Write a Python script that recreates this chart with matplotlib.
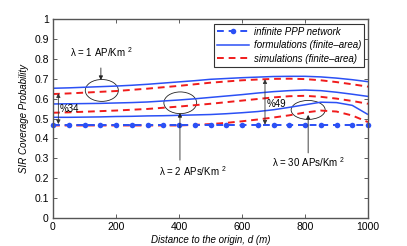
import matplotlib
matplotlib.use("Agg")
import matplotlib.pyplot as plt
from matplotlib.patches import Ellipse

plt.rcParams['font.family'] = ['Liberation Sans', 'DejaVu Sans']
plt.rcParams['mathtext.fontset'] = 'custom'
plt.rcParams['mathtext.rm'] = 'Liberation Sans'
plt.rcParams['mathtext.it'] = 'Liberation Sans:italic'

# ---- data ----
distance = [0, 50, 100, 150, 200, 250, 300, 350, 400, 450, 500,
            550, 600, 650, 700, 750, 800, 850, 900, 950, 1000]

infinite_ppp = [0.465] * 21

form_l1 = [0.652, 0.654, 0.657, 0.660, 0.663, 0.667, 0.672, 0.678, 0.684, 0.690, 0.697,
           0.701, 0.705, 0.708, 0.711, 0.712, 0.712, 0.709, 0.703, 0.695, 0.685]
sim_l1 = [0.623, 0.626, 0.630, 0.634, 0.638, 0.644, 0.650, 0.657, 0.664, 0.672, 0.680,
          0.686, 0.692, 0.696, 0.699, 0.700, 0.698, 0.692, 0.683, 0.672, 0.660]

form_l2 = [0.573, 0.574, 0.575, 0.576, 0.578, 0.580, 0.583, 0.588, 0.593, 0.599, 0.606,
           0.613, 0.620, 0.628, 0.635, 0.640, 0.643, 0.640, 0.632, 0.622, 0.611]
sim_l2 = [0.529, 0.531, 0.534, 0.537, 0.540, 0.544, 0.548, 0.554, 0.560, 0.567, 0.574,
          0.582, 0.590, 0.598, 0.606, 0.612, 0.614, 0.609, 0.600, 0.588, 0.574]

form_l30 = [0.506, 0.506, 0.507, 0.508, 0.510, 0.511, 0.513, 0.514, 0.516, 0.518, 0.520,
            0.524, 0.529, 0.535, 0.544, 0.556, 0.569, 0.582, 0.580, 0.566, 0.520]
sim_l30 = [0.465, 0.465, 0.465, 0.465, 0.465, 0.465, 0.465, 0.465, 0.465, 0.468, 0.472,
           0.478, 0.486, 0.495, 0.505, 0.516, 0.530, 0.540, 0.535, 0.515, 0.482]

xticks = [0, 200, 400, 600, 800, 1000]
yticks = [0, 0.1, 0.2, 0.3, 0.4, 0.5, 0.6, 0.7, 0.8, 0.9, 1]
ytick_labels = ['0', '0.1', '0.2', '0.3', '0.4', '0.5', '0.6', '0.7', '0.8', '0.9', '1']

BLUE = '#2b50f5'
RED = '#f01c1c'

fig = plt.figure(figsize=(4.07, 2.46), dpi=100)
ax = fig.add_axes([53/407, 1-218/246, 315/407, 199/246])

dash = (0, (3.5, 2.5))
for f in [form_l1, form_l2, form_l30]:
    ax.plot(distance, f, color=BLUE, lw=1.1, solid_capstyle='butt')
for s in [sim_l1, sim_l2, sim_l30]:
    ax.plot(distance, s, color=RED, lw=1.4, linestyle=dash)

ax.plot(distance, infinite_ppp, color=BLUE, lw=1.4, linestyle=dash,
        marker='o', markersize=4, markeredgewidth=0, clip_on=False)

# legend handles
h1, = ax.plot([], [], color=BLUE, lw=1.4, linestyle=dash, marker='o',
              markersize=4, markeredgewidth=0)
h2, = ax.plot([], [], color=BLUE, lw=1.1)
h3, = ax.plot([], [], color=RED, lw=1.4, linestyle=dash)
leg = ax.legend([h1, h2, h3],
                ['infinite PPP network', 'formulations (finite\u2013area)',
                 'simulations (finite\u2013area)'],
                loc='upper right', bbox_to_anchor=(0.995, 0.985),
                prop={'style': 'italic', 'size': 7}, fancybox=False,
                edgecolor='#333333', framealpha=1, handlelength=3.3,
                borderpad=0.3, labelspacing=0.35, handletextpad=0.5,
                borderaxespad=0.2)
leg.get_frame().set_linewidth(0.8)

ax.set_xlim(0, 1000)
ax.set_ylim(0, 1)
ax.set_xticks(xticks)
ax.set_yticks(yticks)
ax.set_yticklabels(ytick_labels)
ax.tick_params(direction='in', length=3, width=0.6, labelsize=7.5,
               top=True, right=True, color='#444444', pad=3)
for sp in ax.spines.values():
    sp.set_color('#555555')
    sp.set_linewidth(1.0)

ax.set_xlabel('Distance to the origin, d (m)', fontsize=7, style='italic', labelpad=2)
ax.set_ylabel('SIR Coverage Probability', fontsize=7, style='italic', labelpad=4)

# ellipses
for (cx, cy, w, h) in [(155, 0.641, 105, 0.11), (404, 0.579, 104, 0.109),
                       (810, 0.543, 108, 0.095)]:
    ax.add_patch(Ellipse((cx, cy), w, h, fill=False, edgecolor='#222222', lw=0.6))

arr = dict(arrowstyle='-|>', lw=0.6, color='#222222', mutation_scale=6,
           shrinkA=0, shrinkB=0)
darr = dict(arrowstyle='<|-|>', lw=0.6, color='#333333', mutation_scale=6,
            shrinkA=0, shrinkB=0)

ax.annotate('', xy=(152, 0.693), xytext=(152, 0.754), arrowprops=arr)
ax.text(152, 0.834, '\u03bb = 1 AP/Km $^{2}$', fontsize=7, ha='center', va='center')

ax.annotate('', xy=(403, 0.528), xytext=(403, 0.291), arrowprops=arr)
ax.text(445, 0.236, '\u03bb = 2 APs/Km $^{2}$', fontsize=7, ha='center', va='center')

ax.annotate('', xy=(810, 0.518), xytext=(810, 0.327), arrowprops=arr)
ax.text(811, 0.281, '\u03bb = 30 APs/Km $^{2}$', fontsize=7, ha='center', va='center')

ax.annotate('', xy=(17, 0.627), xytext=(17, 0.472), arrowprops=darr)
ax.text(22, 0.546, '%34', fontsize=7, ha='left', va='center')

ax.annotate('', xy=(673, 0.697), xytext=(673, 0.469), arrowprops=darr)
ax.text(678, 0.574, '%49', fontsize=7, ha='left', va='center')

fig.savefig('out.png', dpi=100)
